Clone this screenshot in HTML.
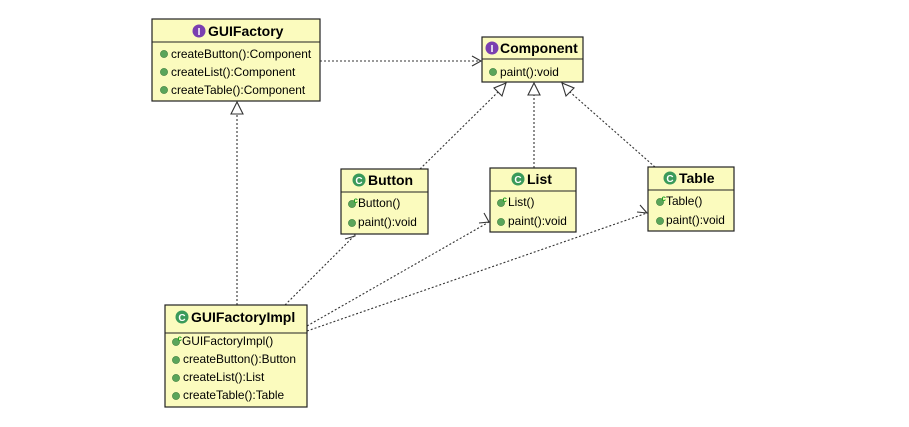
<!DOCTYPE html>
<html><head><meta charset="utf-8"><style>
html,body{margin:0;padding:0;background:#fff;}
svg text{font-family:"Liberation Sans",Arial,sans-serif;font-size:11.9px;fill:#000;}
.t{font-weight:bold;font-size:14px;}
</style></head><body>
<svg width="909" height="422" viewBox="0 0 909 422" xmlns="http://www.w3.org/2000/svg">
<defs>
<g id="dot"><circle r="3.6" fill="#5aa55a" stroke="#3c7d3c" stroke-width="0.6"/></g>
<g id="ci"><circle r="6.5" fill="#7a3fb0"/><text x="0" y="4" text-anchor="middle" style="font-size:10px;font-weight:bold;fill:#fff">I</text></g>
<g id="cc"><circle r="6.5" fill="#3a9a5a"/><text x="0" y="4" text-anchor="middle" style="font-size:10px;font-weight:bold;fill:#fff">C</text></g>
<g id="ctor"><circle r="3.6" fill="#5aa55a" stroke="#3c7d3c" stroke-width="0.6"/><text x="1.5" y="-1" style="font-size:8px;font-weight:bold;fill:#20a020">c</text></g>
</defs>
<g stroke="#333" stroke-width="1.1" stroke-dasharray="2,2" fill="none">
<line x1="320" y1="61" x2="481" y2="61"/>
<line x1="237" y1="305" x2="237" y2="114"/>
<line x1="420" y1="169" x2="498" y2="92"/>
<line x1="534" y1="168" x2="534" y2="95"/>
<line x1="655" y1="167" x2="570" y2="92"/>
<line x1="285" y1="305" x2="354" y2="236"/>
<line x1="307" y1="326" x2="489" y2="222"/>
<line x1="307" y1="331" x2="647" y2="213"/>
</g>
<g stroke="#333" stroke-width="1.1" fill="none">
<polyline points="472,56 481,61 472,66"/>
<polyline points="345,239 355,236 354,227"/>
<polyline points="479,223 489,222 484,213"/>
<polyline points="637,212 647,213 640,205"/>
</g>
<g stroke="#333" stroke-width="1.1" fill="#fff">
<polygon points="237,102 231,114 243,114"/>
<polygon points="506,83 494,88 502,96"/>
<polygon points="534,83 528,95 540,95"/>
<polygon points="562,83 566,96 574,88"/>
</g>
<g stroke="#222" stroke-width="1.2" fill="#fbfbbe">
<rect x="152" y="19" width="168" height="82"/>
<rect x="482" y="37" width="101" height="45"/>
<rect x="341" y="169" width="87" height="65"/>
<rect x="490" y="168" width="86" height="64"/>
<rect x="648" y="167" width="86" height="64"/>
<rect x="165" y="305" width="142" height="102"/>
</g>
<g stroke="#222" stroke-width="1">
<line x1="152" y1="42" x2="320" y2="42"/>
<line x1="482" y1="59" x2="583" y2="59"/>
<line x1="341" y1="192" x2="428" y2="192"/>
<line x1="490" y1="191" x2="576" y2="191"/>
<line x1="648" y1="190" x2="734" y2="190"/>
<line x1="165" y1="333" x2="307" y2="333"/>
</g>
<use href="#ci" x="199" y="31"/><text class="t" x="208" y="36">GUIFactory</text>
<use href="#dot" x="164" y="54"/><text x="171" y="58">createButton():Component</text>
<use href="#dot" x="164" y="72"/><text x="171" y="76">createList():Component</text>
<use href="#dot" x="164" y="90"/><text x="171" y="94">createTable():Component</text>
<use href="#ci" x="492" y="48"/><text class="t" x="500" y="53">Component</text>
<use href="#dot" x="493" y="72"/><text x="500" y="76">paint():void</text>
<use href="#cc" x="359" y="180"/><text class="t" x="368" y="185">Button</text>
<use href="#ctor" x="352" y="204"/><text x="358" y="207">Button()</text>
<use href="#dot" x="352" y="223"/><text x="358" y="226">paint():void</text>
<use href="#cc" x="518" y="179"/><text class="t" x="527" y="184">List</text>
<use href="#ctor" x="501" y="203"/><text x="508" y="206">List()</text>
<use href="#dot" x="501" y="222"/><text x="508" y="225">paint():void</text>
<use href="#cc" x="670" y="178"/><text class="t" x="679" y="183">Table</text>
<use href="#ctor" x="660" y="202"/><text x="666" y="205">Table()</text>
<use href="#dot" x="660" y="221"/><text x="666" y="224">paint():void</text>
<use href="#cc" x="182" y="317"/><text class="t" x="191" y="322">GUIFactoryImpl</text>
<use href="#ctor" x="176" y="342"/><text x="182" y="345">GUIFactoryImpl()</text>
<use href="#dot" x="176" y="360"/><text x="183" y="363">createButton():Button</text>
<use href="#dot" x="176" y="378"/><text x="183" y="381">createList():List</text>
<use href="#dot" x="176" y="396"/><text x="183" y="399">createTable():Table</text>
</svg>
</body></html>
